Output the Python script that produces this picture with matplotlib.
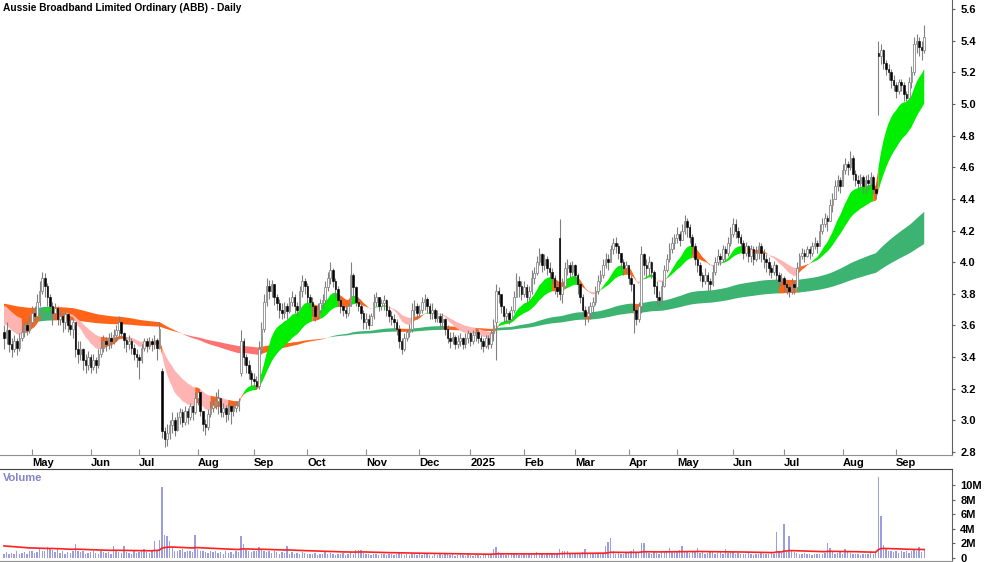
import numpy as np
import pandas as pd
import matplotlib
matplotlib.use("Agg")
import matplotlib.pyplot as plt

plt.rcParams['font.family'] = ['Liberation Sans', 'DejaVu Sans']

# ---------------- data (prices in cents, volume in millions) ----------------
holidays = ['2024-04-25', '2024-06-10', '2024-12-25', '2024-12-26', '2025-01-01',
            '2025-01-27', '2025-04-18', '2025-04-21', '2025-04-25', '2025-06-09']

opens = [356,352,357,348,345,350,346,352,356,360, 357,362,368,366,375,382,390,385,378,372,
         368,371,364,366,362,367,360,358,362,345, 342,345,338,335,340,334,338,335,342,346,
         350,348,352,350,354,357,362,355,351,348, 350,346,342,340,338,346,350,347,350,348,
         351,346,331,293,288,292,297,300,294,302, 305,299,306,302,309,305,314,318,306,298,
         296,304,308,310,312,314,305,308,304,309, 306,308,310,330,350,340,335,330,326,325,
         322,345,358,375,385,382,386,378,374,370, 368,372,369,375,378,372,370,382,388,385,
         378,375,372,366,370,374,376,384,390,395, 388,383,376,372,370,368,372,392,384,375,
         372,368,362,364,360,366,375,378,372,374, 376,370,366,364,362,358,350,345,352,356,
         358,370,372,368,370,375,377,372,368,370, 365,366,362,364,358,352,350,353,348,350,
         352,348,352,355,350,354,356,352,350,347, 352,348,355,362,382,380,372,366,368,364,
         370,378,388,385,380,384,378,382,390,393, 400,405,398,402,396,394,390,384,415,380,
         385,396,398,394,398,392,386,378,370,366, 368,372,375,382,388,392,398,402,400,408,
         412,410,406,400,396,398,390,386,370,364, 372,405,398,396,400,394,385,378,376,385,
         395,402,408,412,415,418,414,420,426,422, 416,410,402,398,392,388,392,388,386,394,
         400,404,402,408,406,412,418,424,420,416, 412,406,410,404,408,402,406,410,406,402,
         400,396,394,398,392,388,390,386,384,382, 386,384,396,404,406,404,408,406,410,412,
         410,420,424,428,426,436,440,448,452,448, 458,462,460,466,456,452,450,454,448,452,
         450,454,446,532,530,534,526,522,520,515, 512,508,514,512,506,504,514,520,538,540,
         536,534]

closes = [352,357,348,345,350,346,352,356,360,357, 362,368,366,375,382,390,385,378,372,368,
          371,364,366,362,367,360,358,362,345,342, 345,338,335,340,334,338,335,342,346,350,
          348,352,350,354,357,362,355,351,348,350, 346,342,340,338,346,350,347,350,348,351,
          346,358,293,288,292,297,300,294,302,305, 299,306,302,309,305,314,318,306,298,296,
          304,308,310,312,314,305,308,304,309,306, 308,310,312,350,340,335,330,326,325,322,
          345,358,375,385,382,386,378,374,370,368, 372,369,375,378,372,370,382,388,385,378,
          375,372,366,370,374,376,384,390,395,388, 383,376,372,370,368,372,392,384,375,372,
          368,362,364,360,366,375,378,372,374,376, 370,366,364,362,358,350,345,352,356,358,
          370,372,368,370,375,377,372,368,370,365, 366,362,364,358,352,350,353,348,350,352,
          348,352,355,350,354,356,352,350,347,352, 348,355,360,382,380,372,366,368,364,370,
          378,388,385,380,384,378,382,390,393,400, 405,398,402,396,394,390,384,382,380,385,
          396,398,394,398,392,386,378,370,366,368, 372,375,382,388,392,398,402,400,408,412,
          410,406,400,396,398,390,386,370,364,372, 405,398,396,400,394,385,378,376,385,395,
          402,408,412,415,418,414,420,426,422,416, 410,402,398,392,388,392,388,386,394,400,
          404,402,408,406,412,418,424,420,416,412, 406,410,404,408,402,406,410,406,402,400,
          396,394,398,392,388,390,386,384,382,386, 384,396,404,406,404,408,406,410,412,410,
          420,424,428,426,436,440,448,452,448,458, 462,460,466,456,452,450,454,448,452,450,
          454,446,444,530,534,526,522,520,515,512, 508,514,512,506,504,514,520,538,540,536,
          534,542]

highs = [360,362,358,352,354,352,355,360,362,363, 366,372,372,380,388,394,393,387,380,375,
         374,372,370,368,370,368,364,365,360,350, 350,346,342,344,342,342,340,345,350,354,
         353,355,356,358,360,366,363,356,353,354, 352,348,345,342,348,352,352,353,352,354,
         352,362,333,296,298,300,305,302,305,308, 307,309,308,311,310,318,320,318,306,301,
         307,312,314,318,320,312,311,310,311,310, 311,312,314,357,352,342,338,332,330,328,
         350,362,380,390,389,389,386,380,377,374, 375,374,378,382,380,375,385,392,390,387,
         380,378,373,374,377,380,388,394,400,396, 390,385,378,374,372,374,400,393,385,378,
         374,370,368,367,368,380,381,378,377,379, 377,372,369,367,364,360,352,355,358,361,
         374,376,374,373,378,380,378,374,374,371, 370,368,368,365,360,356,356,354,354,355,
         353,355,357,356,357,358,358,354,352,354, 354,358,364,386,384,380,372,371,369,372,
         382,393,391,388,388,386,385,395,397,404, 409,406,405,404,400,396,392,388,427,390,
         400,402,400,401,399,393,388,380,372,372, 375,378,385,392,395,402,406,405,411,415,
         416,412,406,402,401,397,392,386,372,375, 410,406,402,404,401,395,388,382,388,398,
         405,412,416,418,422,420,424,430,428,424, 418,412,404,400,394,396,394,390,398,403,
         408,406,411,410,416,422,428,427,422,418, 414,413,411,411,410,410,413,412,408,405,
         403,398,401,399,394,393,391,388,386,390, 388,400,406,409,408,410,410,413,416,414,
         424,428,431,430,440,444,452,455,454,462, 466,464,470,468,458,455,456,455,455,456,
         457,455,450,540,538,535,528,525,522,518, 514,516,516,514,508,517,524,542,544,542,
         540,550]

lows = [345,348,343,340,343,341,344,350,353,354, 355,360,362,364,372,380,378,372,368,360,
        364,360,360,356,358,356,354,352,340,336, 338,332,330,332,330,332,330,333,340,343,
        344,345,346,348,350,353,352,346,343,345, 342,338,334,326,336,344,343,345,344,345,
        338,345,289,283,284,288,292,290,293,298, 296,297,298,300,300,304,310,303,293,291,
        294,302,305,307,304,302,302,299,300,298, 303,305,306,328,335,330,326,322,321,320,
        320,342,356,372,377,378,373,370,365,364, 365,364,368,372,368,366,370,378,380,374,
        371,366,363,364,368,371,374,382,386,384, 378,372,368,366,365,366,372,378,372,369,
        364,358,358,358,360,364,372,369,370,370, 366,362,360,358,354,346,342,344,350,353,
        356,366,364,366,368,370,368,364,364,362, 362,358,358,354,349,346,348,345,346,347,
        345,346,349,347,348,350,349,345,343,346, 345,346,350,338,374,368,362,362,361,363,
        368,378,378,376,378,374,376,380,386,392, 398,394,395,392,390,386,380,378,376,374,
        384,392,390,392,388,380,374,366,360,362, 364,368,373,380,386,390,396,395,400,405,
        406,402,396,392,393,386,382,355,360,362, 368,392,390,392,390,380,374,372,375,384,
        394,400,406,408,412,410,414,418,416,412, 405,398,394,388,384,386,382,382,385,392,
        398,398,400,401,404,410,416,415,412,408, 402,404,400,400,398,401,402,400,396,394,
        392,390,392,388,384,385,381,380,378,380, 380,384,396,402,400,403,402,404,408,406,
        410,418,422,420,426,432,440,445,444,448, 456,455,458,452,448,446,448,444,444,446,
        448,443,440,493,525,522,518,515,510,508, 504,506,508,502,502,504,510,518,532,530,
        528,532]

volume_m = [0.6,0.8,0.5,0.7,0.6,0.9,0.5,0.7,0.8,0.6, 0.9,1.0,0.7,0.8,1.2,1.0,0.9,1.5,1.4,1.1,
            0.8,1.2,0.7,0.9,0.6,0.8,0.7,0.9,1.9,1.0, 0.8,0.9,0.6,0.7,0.8,1.0,0.7,0.6,0.9,0.8,
            0.7,0.8,0.6,1.6,0.9,0.8,0.7,1.6,0.8,0.7, 0.6,0.9,0.7,0.8,1.0,1.3,0.8,0.7,0.9,2.4,
            1.0,2.5,9.8,3.2,3.0,2.3,1.5,1.0,0.9,1.1, 1.2,0.8,0.9,1.0,0.8,3.2,1.2,0.9,1.0,0.8,
            0.7,0.9,0.8,1.0,0.7,0.8,0.6,0.9,0.7,0.8, 0.6,0.9,0.8,3.0,1.9,1.1,0.9,0.8,1.0,0.9,
            1.5,1.1,0.9,0.8,1.0,0.7,0.9,0.8,0.6,0.8, 0.7,1.6,0.6,0.8,0.5,0.7,0.6,0.8,0.7,0.5,
            0.6,0.5,0.7,0.4,0.6,0.5,0.8,0.6,0.7,0.5, 0.4,0.6,0.5,0.7,0.4,0.5,0.8,0.6,1.1,1.1,
            1.1,0.7,0.5,0.6,0.4,0.6,0.5,0.4,0.6,0.5, 0.4,0.5,0.6,0.4,0.5,0.7,0.6,0.4,0.5,0.4,
            0.6,0.5,0.4,0.5,0.4,0.6,0.5,0.4,0.3,0.5, 0.4,0.5,0.4,0.6,0.5,0.4,0.5,0.3,0.4,0.5,
            0.4,0.3,0.5,0.4,0.3,0.5,0.4,0.3,0.4,0.5, 0.4,0.6,1.2,1.5,0.8,0.6,0.5,0.4,0.5,0.6,
            0.5,0.7,0.4,0.5,0.6,0.4,0.5,0.7,0.6,0.8, 0.6,0.5,0.4,0.6,0.5,0.7,0.6,0.5,1.2,1.0,
            1.0,0.9,0.6,0.7,0.5,0.6,0.7,0.8,1.3,0.6, 0.5,0.7,0.6,0.5,0.6,0.7,1.6,2.2,2.7,0.9,
            0.6,0.7,0.5,0.6,0.8,0.7,0.9,1.2,0.8,0.7, 2.1,2.0,0.9,0.7,0.6,0.8,0.7,0.6,0.9,0.8,
            0.9,1.4,1.0,0.8,0.9,1.1,1.6,1.0,0.8,0.7, 0.9,0.8,1.4,0.7,0.8,0.6,0.7,0.9,0.8,0.6,
            0.7,0.8,0.6,1.2,0.7,0.9,0.8,0.6,0.7,0.5, 0.6,0.5,0.7,0.6,0.4,0.6,0.5,0.7,0.5,0.6,
            0.5,0.7,0.6,3.6,0.9,0.7,4.7,0.8,3.0,0.9, 0.8,0.7,0.6,0.5,0.7,0.6,0.5,0.4,0.6,0.5,
            0.6,0.5,0.7,2.1,1.4,0.8,0.6,0.7,0.9,0.6, 1.3,0.8,0.7,0.6,0.5,0.6,0.4,0.5,0.6,0.5,
            0.7,0.6,0.8,11.1,5.8,1.8,1.2,1.0,0.9,0.8, 0.9,0.7,1.0,0.8,0.9,0.7,1.0,1.1,0.9,1.5,
            0.8,1.1]

# moving-average ribbons: (fast, slow) periods and starting levels
short_periods = [14, 30]
short_seed = [3.62, 3.74]
long_periods = [150, 250]
long_seed = [3.74, 3.63]
volume_ma_period = 60
volume_ma_seed = 1.7

price_ticks = [2.8, 3.0, 3.2, 3.4, 3.6, 3.8, 4.0, 4.2, 4.4, 4.6, 4.8, 5.0, 5.2, 5.4, 5.6]
vol_ticks = [0, 2, 4, 6, 8, 10]
vol_tick_labels = ['0', '2M', '4M', '6M', '8M', '10M']

# ---------------- prep ----------------
dates = pd.bdate_range('2024-04-15', '2025-09-16')
dates = dates[~dates.isin(pd.to_datetime(holidays))]
n = len(dates)
O = np.array(opens) / 100.0
C = np.array(closes) / 100.0
Hh = np.array(highs) / 100.0
Ll = np.array(lows) / 100.0
V = np.array(volume_m)
assert len(O) == len(C) == len(Hh) == len(Ll) == len(V) == n
x = np.arange(n)


def ema(src, p, seed):
    a = 2.0 / (p + 1)
    e = np.empty(len(src))
    prev = seed
    for i, v in enumerate(src):
        prev = prev + a * (v - prev)
        e[i] = prev
    return e


def band_states(fast, slow):
    rising = np.r_[False, np.diff(fast) > 0]
    rising[0] = rising[1]
    bull = (fast > slow) & rising
    bear = (fast < slow) & ~rising
    return bull, bear, ~(bull | bear)


def grow(m):
    g = m.copy()
    g[1:] |= m[:-1]
    return g


W, H = 1000, 562
fig = plt.figure(figsize=(W / 100, H / 100), dpi=100)
fig.patch.set_facecolor('white')

ax = fig.add_axes([0.0, 1 - 455 / H, 952 / W, 455 / H])
axv = fig.add_axes([0.0, 1 - 561 / H, 952 / W, (561 - 469) / H])

xl = (-1.57, 371.9)
ax.set_xlim(*xl)
axv.set_xlim(*xl)
ax.set_ylim(2.781, 5.657)
axv.set_ylim(-0.41, 12.24)

# ribbons
lf = ema(C, long_periods[0], long_seed[0])
ls = ema(C, long_periods[1], long_seed[1])
bull, bear, mixed = band_states(lf, ls)
lo, hi = np.minimum(lf, ls), np.maximum(lf, ls)
for m, col in [(bull, '#3cb371'), (bear, '#ff7272'), (mixed, '#ff6418')]:
    ax.fill_between(x, lo, hi, where=grow(m), color=col, lw=0, zorder=1)

sf = ema(C, short_periods[0], short_seed[0])
ss = ema(C, short_periods[1], short_seed[1])
bull, bear, mixed = band_states(sf, ss)
lo, hi = np.minimum(sf, ss), np.maximum(sf, ss)
for m, col in [(bull, '#00ee00'), (bear, '#ffb4b4'), (mixed, '#ff6418')]:
    ax.fill_between(x, lo, hi, where=grow(m), color=col, lw=0, zorder=2)

# candles
up = C >= O
ax.vlines(x, Ll, Hh, color='#808080', lw=0.8, zorder=3)
body_lo = np.minimum(O, C)
body_h = np.maximum(np.abs(C - O), 0.004)
ax.bar(x[up], body_h[up], bottom=body_lo[up], width=0.62, color='white',
       edgecolor='#8a8a8a', lw=0.6, zorder=4)
ax.bar(x[~up], body_h[~up], bottom=body_lo[~up], width=0.62, color='black',
       edgecolor='black', lw=0.4, zorder=4)

# price axis styling
for s in ['top', 'left']:
    ax.spines[s].set_visible(False)
ax.spines['right'].set_color('#606060')
ax.spines['bottom'].set_color('#909090')
ax.yaxis.tick_right()
ax.set_yticks(price_ticks)
ax.set_yticklabels([f'{t:.1f}' for t in price_ticks], fontsize=8, fontweight='bold')
ax.tick_params(axis='y', direction='out', length=2, pad=4, color='#606060')

month_idx = [i for i in range(1, n) if dates[i].month != dates[i - 1].month]
month_lab = [str(dates[i].year) if dates[i].month == 1 else dates[i].strftime('%b') for i in month_idx]
ax.set_xticks(month_idx)
ax.set_xticklabels(month_lab, fontsize=8, fontweight='bold', ha='left')
ax.tick_params(axis='x', direction='in', length=4, pad=2, color='#909090')

# volume panel
axv.bar(x, V, width=0.55, color='#9c9ce0', lw=0, zorder=2)
vma = ema(V, volume_ma_period, volume_ma_seed)
axv.plot(x, vma, color='#ff2020', lw=1.2, zorder=3)
axv.spines['left'].set_visible(False)
axv.spines['top'].set_color('#404040')
axv.spines['right'].set_color('#606060')
axv.spines['bottom'].set_color('#909090')
axv.set_xticks([])
axv.yaxis.tick_right()
axv.set_yticks(vol_ticks)
axv.set_yticklabels(vol_tick_labels, fontsize=8, fontweight='bold')
axv.tick_params(axis='y', direction='out', length=2, pad=4, color='#606060')

fig.text(3 / W, 1 - 8 / H, 'Aussie Broadband Limited Ordinary (ABB) - Daily',
         fontsize=7.3, fontweight='bold', va='center', ha='left')
fig.text(3 / W, 1 - 478 / H, 'Volume', fontsize=8, fontweight='bold',
         color='#8484c8', va='center', ha='left')

fig.savefig('out.png', dpi=100, facecolor='white')
